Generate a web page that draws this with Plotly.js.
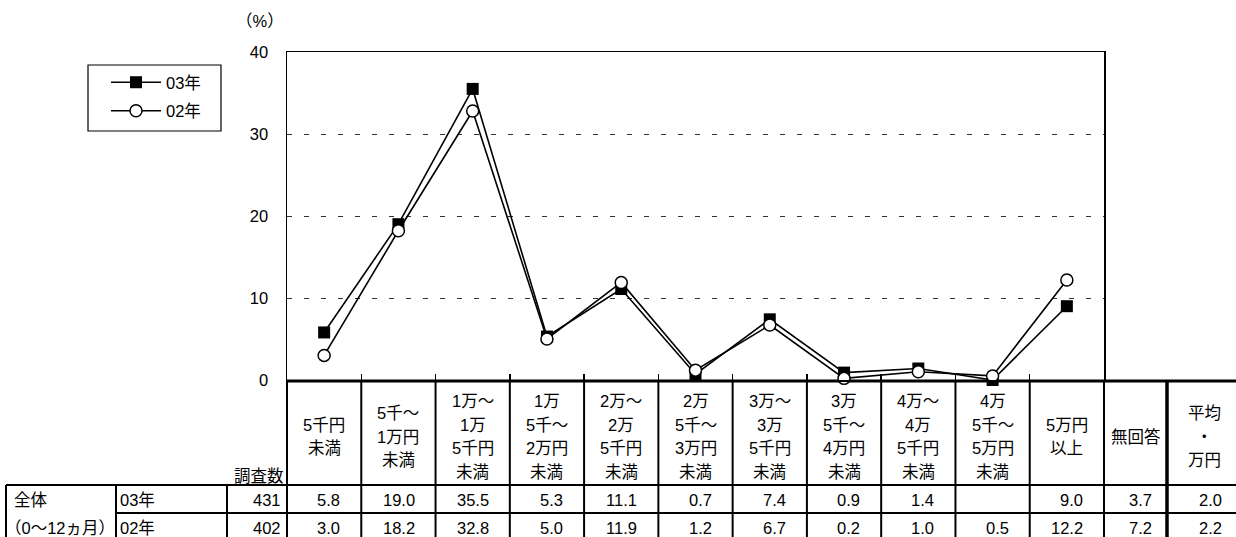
<!DOCTYPE html>
<html><head><meta charset="utf-8">
<script src="https://cdn.plot.ly/plotly-3.0.1.min.js"></script>
<style>html,body{margin:0;padding:0;background:#fff}#chart{width:1236px;height:537px}</style>
</head><body><div id="chart"></div>
<script>
// ---- data ----
const categories = ['5千円<br>未満', '5千～<br>1万円<br>未満', '1万～<br>1万<br>5千円<br>未満', '1万<br>5千～<br>2万円<br>未満', '2万～<br>2万<br>5千円<br>未満', '2万<br>5千～<br>3万円<br>未満', '3万～<br>3万<br>5千円<br>未満', '3万<br>5千～<br>4万円<br>未満', '4万～<br>4万<br>5千円<br>未満', '4万<br>5千～<br>5万円<br>未満', '5万円<br>以上'];
const seriesNames = ['03年', '02年'];
const values03 = [5.8, 19.0, 35.5, 5.3, 11.1, 0.7, 7.4, 0.9, 1.4, 0, 9.0];
const values02 = [3.0, 18.2, 32.8, 5.0, 11.9, 1.2, 6.7, 0.2, 1.0, 0.5, 12.2];
const sampleSizes = [431, 402];
const noAnswer = [3.7, 7.2];
const averages = [2.0, 2.2];
const extraHeaders = ['無回答', '平均<br>・<br>万円'];
const groupLabels = ['全体', '（0～12ヵ月）'];
const sampleHeader = '調査数';
const unitLabel = '（%）';
const yTicks = [0, 10, 20, 30, 40];

// ---- geometry ----
const L = 287, R = 1104, T = 52, B = 380;
const X = px => (px - L) / (R - L);
const Y = py => (B - py) / (B - T);
const FONT = '"Liberation Sans", Arial, "Noto Sans CJK JP", sans-serif';
const FS = 16.5;
const nCat = categories.length;
const LH = 23.5, HEADER_MID = 436.5;
const ROW_Y = [500, 528];

const traces = [
  {type: 'scatter', mode: 'lines+markers', x: categories, y: values03, name: seriesNames[0],
   line: {color: '#000', width: 1.6}, marker: {symbol: 'square', size: 12, color: '#000'},
   legendrank: 1, legendgroup: 'a', cliponaxis: false, hoverinfo: 'skip'},
  {type: 'scatter', mode: 'lines+markers', x: categories, y: values02, name: seriesNames[1],
   line: {color: '#000', width: 1.6}, marker: {symbol: 'circle', size: 12, color: '#fff', line: {color: '#000', width: 1.5}},
   legendrank: 2, legendgroup: 'b', cliponaxis: false, hoverinfo: 'skip'}
];

const shapes = [];
const ann = [];
const hline = (x0, x1, py, w) => shapes.push({type: 'line', xref: 'paper', yref: 'paper', x0: X(x0), x1: X(x1), y0: Y(py), y1: Y(py), line: {color: '#000', width: w}, layer: 'below'});
const vlineP = (xp, py0, py1, w) => shapes.push({type: 'line', xref: 'paper', yref: 'paper', x0: xp, x1: xp, y0: Y(py0), y1: Y(py1), line: {color: '#000', width: w}, layer: 'below'});
const txt = (text, x, py, anchor, xref, xshift) => ann.push({text, x, y: Y(py), xref: xref || 'paper', yref: 'paper', xanchor: anchor || 'center', yanchor: 'middle', showarrow: false, xshift: xshift || 0, font: {family: FONT, size: FS, color: '#000'}});

// legend box
shapes.push({type: 'rect', xref: 'paper', yref: 'paper', x0: X(88), x1: X(221), y0: Y(65), y1: Y(131), line: {color: '#000', width: 1.2}});

// zero line / header top, extended across the table
hline(L, 1236, B + 1, 3);
// table grid
hline(6, 1236, 485, 2);
hline(116, 1236, 513, 2);
for (let k = 0; k <= nCat; k++) vlineP(k / nCat, B, 545, 2);
vlineP(X(1167), B, 545, 3.5);
[6, 116, 227].forEach(px => vlineP(X(px), 485, 545, 2));

// category header texts
categories.forEach((c, i) => {
  const lines = c.split('<br>');
  lines.forEach((ln, j) => txt(ln, i, HEADER_MID + (j - (lines.length - 1) / 2) * LH, 'center', 'x'));
});
const extraX = [1135.5, 1204];
extraHeaders.forEach((c, i) => {
  const lines = c.split('<br>');
  lines.forEach((ln, j) => txt(ln, X(extraX[i]), HEADER_MID + (j - (lines.length - 1) / 2) * LH));
});
txt(sampleHeader, X(286), 476, 'right');
txt(unitLabel, X(260), 21);

// data rows
const rows = [values03, values02];
rows.forEach((vals, r) => {
  txt(groupLabels[r], X(r === 0 ? 12 : 3), ROW_Y[r], 'left');
  txt(seriesNames[r], X(118), ROW_Y[r], 'left');
  txt(String(sampleSizes[r]), X(283), ROW_Y[r], 'right');
  vals.forEach((v, i) => txt(v === 0 ? '' : v.toFixed(1), (i + 1) / nCat, ROW_Y[r], 'right', 'paper', -19));
  txt(noAnswer[r].toFixed(1), X(1154), ROW_Y[r], 'right');
  txt(averages[r].toFixed(1), X(1224), ROW_Y[r], 'right');
});

const layout = {
  width: 1236, height: 537,
  margin: {l: L, r: 1236 - R, t: T, b: 537 - B, pad: 0},
  paper_bgcolor: '#fff', plot_bgcolor: 'rgba(0,0,0,0)',
  font: {family: FONT, size: FS, color: '#000'},
  showlegend: true,
  legend: {x: X(106), y: Y(65), xanchor: 'left', yanchor: 'top', bgcolor: 'rgba(0,0,0,0)', borderwidth: 0,
           itemwidth: 50, tracegroupgap: 4, font: {family: FONT, size: FS, color: '#000'}},
  xaxis: {type: 'category', range: [-0.5, nCat - 0.5], showticklabels: false, ticks: 'inside', tickson: 'boundaries',
          ticklen: 6, tickwidth: 1.5, tickcolor: '#000', showgrid: false, zeroline: false,
          showline: true, mirror: true, linecolor: '#000', linewidth: 1.5, fixedrange: true},
  yaxis: {range: [0, 40], tickvals: yTicks, ticks: '', showgrid: true, gridcolor: '#333', gridwidth: 1,
          griddash: '5px,12px', zeroline: false, showline: true, mirror: true, linecolor: '#000', linewidth: 1.5,
          tickfont: {family: FONT, size: FS, color: '#000'}, ticklabelstandoff: 14, fixedrange: true},
  shapes: shapes, annotations: ann
};
Plotly.newPlot('chart', traces, layout, {displayModeBar: false, staticPlot: true});
</script></body></html>
